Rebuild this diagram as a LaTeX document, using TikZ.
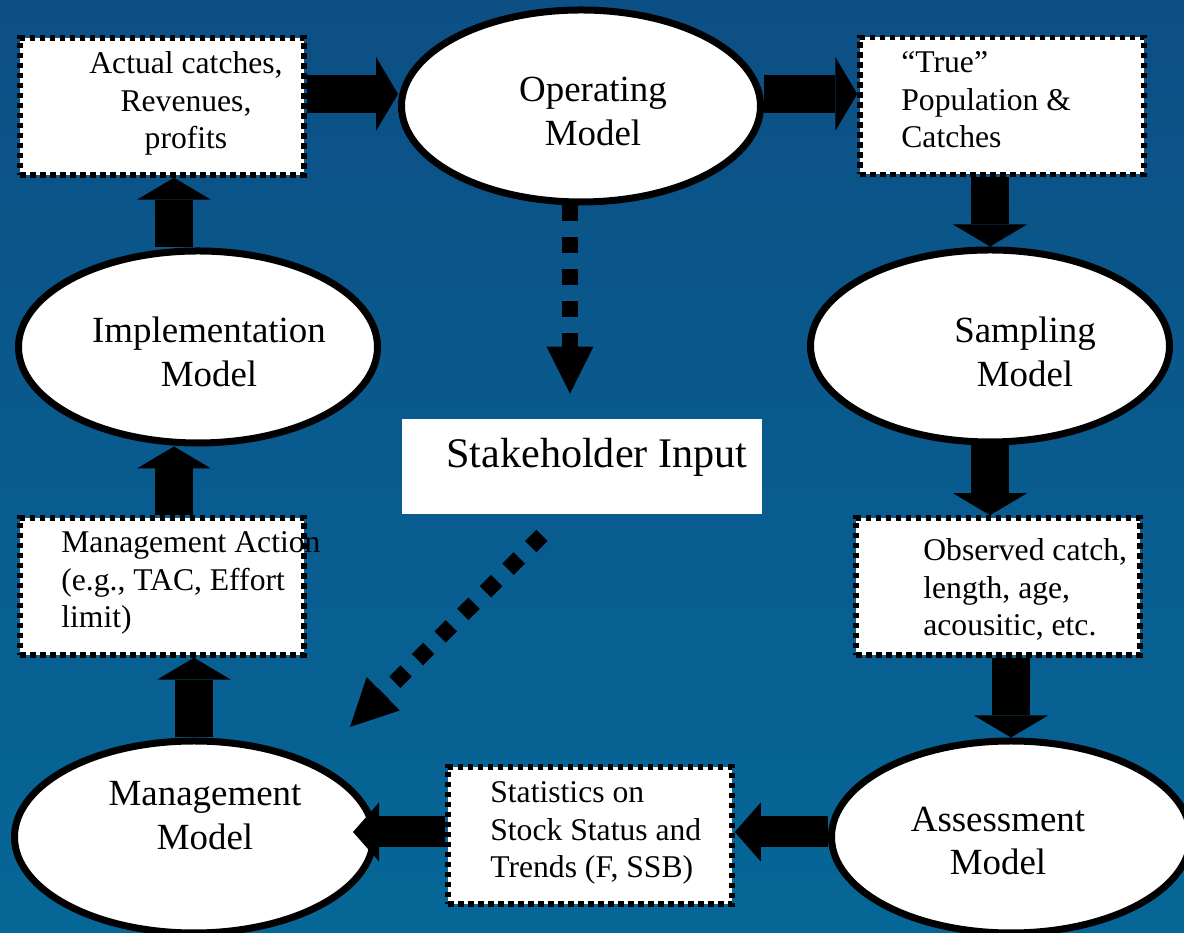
\documentclass[tikz,border=0pt]{standalone}
\usepackage{fontspec}
\setmainfont{Liberation Serif}
\usetikzlibrary{shapes.geometric,arrows.meta}
\definecolor{bgtop}{RGB}{12,79,133}
\definecolor{bgmid}{RGB}{38,96,142}
\definecolor{bgbot}{RGB}{6,103,151}

\begin{document}
\begin{tikzpicture}[
    model/.style={ellipse, draw, fill=white, line width=0.14cm, minimum width=7.18cm, minimum height=3.84cm},
    databox/.style={rectangle, draw, fill=white, line width=0.11cm, dash pattern=on 0.11cm off 0.09cm, minimum width=5.68cm, minimum height=2.74cm},
    modeltext/.style={align=center, inner sep=0pt, font=\fontsize{21}{25}\selectfont},
    boxtext/.style={inner sep=0pt, font=\fontsize{18}{21.3}\selectfont},
    fatarrow/.style={line width=0.76cm, -{Triangle[width=1.48cm, length=0.44cm, line width=0pt]}},
    slimarrow/.style={line width=0.62cm, -{Triangle[width=1.18cm, length=0.52cm, line width=0pt]}},
    dotarrow/.style={line width=0.32cm, dash pattern=on 0.32cm off 0.32cm, -{Triangle[width=0.94cm, length=0.94cm, line width=0pt]}}
  ]
  \useasboundingbox (0,0) rectangle (23.68,18.66);
  \fill[top color=bgtop, middle color=bgmid, bottom color=bgbot] (0,0) rectangle (23.68,18.66);

  % models
  \node[model] (opm) at (11.62,16.54) {};
  \node[model] (imp) at (3.96,11.72) {};
  \node[model] (spm) at (19.80,11.74) {};
  \node[model] (mgm) at (3.88,1.92) {};
  \node[model] (asm) at (20.22,1.92) {};

  % data boxes
  \node[databox] (act) at (3.24,16.53) {};
  \node[databox] (tpc) at (20.04,16.54) {};
  \node[databox] (mac) at (3.24,6.93) {};
  \node[databox] (obs) at (19.96,6.93) {};
  \node[databox] (sts) at (11.80,1.95) {};
  \node[fill=white, minimum width=7.2cm, minimum height=1.9cm] (stk) at (11.64,9.33) {};

  % loop arrows
  \coordinate (a1) at ([yshift=0.25cm]act.east);
  \draw[fatarrow] (a1) -- (a1 -| opm.west);
  \coordinate (a2) at ([yshift=0.24cm]tpc.west);
  \draw[fatarrow] (a2 -| opm.east) -- (a2);
  \draw[fatarrow] (spm.north |- tpc.south) -- (spm.north);
  \draw[fatarrow] (spm.south) -- (spm.south |- obs.north);
  \draw[fatarrow] (asm.north |- obs.south) -- (asm.north);
  \coordinate (a6) at ([yshift=0.07cm]sts.east);
  \draw[slimarrow] (a6 -| asm.west) -- (a6);
  \coordinate (a7) at ([yshift=0.07cm]sts.west);
  \draw[slimarrow, shorten >=-0.48cm] (a7) -- (a7 -| mgm.east);
  \draw[fatarrow] (mgm.north) -- (mgm.north |- mac.south);
  \coordinate (a9) at ([xshift=-0.48cm]imp.south);
  \draw[fatarrow] (a9 |- mac.north) -- (a9);
  \coordinate (a10) at ([xshift=-0.48cm]imp.north);
  \draw[fatarrow] (a10) -- (a10 |- act.south);

  % stakeholder arrows
  \coordinate (a11) at ([xshift=-0.22cm]opm.south);
  \draw[dotarrow, shorten >=0.5cm] (a11) -- (a11 |- stk.north);
  \coordinate (a12) at ([xshift=-0.8cm, yshift=-0.42cm]stk.south);
  \coordinate (a12e) at ([shift={(3.12,2.2)}]mgm.center);
  \draw[dotarrow] (a12) -- (a12e);

  % texts
  \node[modeltext] (opm-t) at (11.86,16.43) {Operating\\Model};
  \node[modeltext] (imp-t) at (4.18,11.62) {Implementation\\Model};
  \node[modeltext] (spm-t) at (20.50,11.62) {Sampling\\Model};
  \node[modeltext] (mgm-t) at (4.10,2.34) {Management\\Model};
  \node[modeltext] (asm-t) at (19.96,1.84) {Assessment\\Model};
  \node[boxtext, align=center, anchor=north] (act-t) at (3.72,17.63) {Actual catches,\\Revenues,\\profits};
  \node[boxtext, align=left, anchor=north west] (tpc-t) at (18.02,17.63) {“True”\\Population \&\\Catches};
  \node[boxtext, align=left, anchor=north west] (mac-t) at (1.22,8.03) {Management Action\\(e.g., TAC, Effort\\limit)};
  \node[boxtext, align=left, anchor=north west] (obs-t) at (18.46,7.89) {Observed catch,\\length, age,\\acousitic, etc.};
  \node[boxtext, align=left, anchor=north west] (sts-t) at (9.80,3.03) {Statistics on\\Stock Status and\\Trends (F, SSB)};
  \node[inner sep=0pt, anchor=north west, font=\fontsize{24}{29}\selectfont] (stk-t) at (8.92,9.90) {Stakeholder Input};
\end{tikzpicture}
\end{document}
